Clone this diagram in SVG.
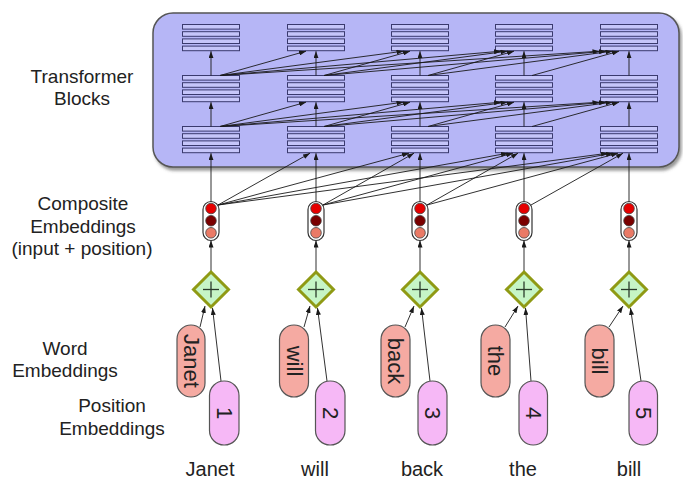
<svg xmlns="http://www.w3.org/2000/svg" xmlns:xlink="http://www.w3.org/1999/xlink" width="683" height="479" viewBox="0 0 683 479">
<style>
.lbl{font-family:"Liberation Sans",Arial,sans-serif;font-size:19px;fill:#222;text-anchor:middle}
.pill-t{font-family:"Liberation Sans",Arial,sans-serif;font-size:22px;fill:#222;text-anchor:middle;dominant-baseline:central}
.word{font-family:"Liberation Sans",Arial,sans-serif;font-size:20px;fill:#222;text-anchor:middle}
.bar{fill:#c6c6fa;stroke:#3a3a6e;stroke-width:1}
.wp{fill:#f5aaa2;stroke:#555;stroke-width:1.2}
.pp{fill:#f6b8f6;stroke:#555;stroke-width:1.2}
.plus{fill:#c6f5c6;stroke:#8f9a14;stroke-width:3}
.cross{stroke:#2a3a2a;stroke-width:1.3}
.comp{fill:#fff;stroke:#333;stroke-width:1.2}
.c1{fill:#e60000;stroke:#444;stroke-width:0.8}
.c2{fill:#7a0000;stroke:#444;stroke-width:0.8}
.c3{fill:#ea7a66;stroke:#444;stroke-width:0.8}
#connectors line{stroke:#1a1a1a;stroke-width:0.9;marker-end:url(#ah)}
</style>
<defs>
<marker id="ah" markerUnits="userSpaceOnUse" markerWidth="7" markerHeight="5" refX="7" refY="2.5" orient="auto">
<path d="M0,0 L7,2.5 L0,5 z" fill="#1a1a1a"/>
</marker>
<filter id="sh" x="-5%" y="-10%" width="110%" height="125%">
<feDropShadow dx="2" dy="3" stdDeviation="1.5" flood-color="#555" flood-opacity="0.6"/>
</filter>
<g id="stack">
<rect class="bar" x="-28.5" y="0" width="57" height="4.6"/>
<rect class="bar" x="-28.5" y="7.2" width="57" height="4.6"/>
<rect class="bar" x="-28.5" y="14.4" width="57" height="4.6"/>
<rect class="bar" x="-28.5" y="21.6" width="57" height="4.6"/>
</g>
<g id="compnode">
<rect class="comp" x="-8" y="0" width="16" height="39" rx="8"/>
<circle class="c1" cx="0" cy="7" r="5.3"/>
<circle class="c2" cx="0" cy="19.2" r="5.3"/>
<circle class="c3" cx="0" cy="31.3" r="5.3"/>
</g>
<g id="plusnode">
<polygon class="plus" points="0,-17.5 17.5,0 0,17.5 -17.5,0"/>
<line class="cross" x1="-8" y1="0" x2="8" y2="0"/>
<line class="cross" x1="0" y1="-8" x2="0" y2="8"/>
</g>
</defs>

<g id="transformer-blocks">
<rect x="153" y="13" width="526" height="154" rx="20" fill="#b6b6f6" stroke="#555" stroke-width="1.5" filter="url(#sh)"/>
</g>

<g id="labels">
<text class="lbl" x="82" y="83">Transformer</text>
<text class="lbl" x="82" y="105">Blocks</text>
<text class="lbl" x="83" y="210">Composite</text>
<text class="lbl" x="83" y="233">Embeddings</text>
<text class="lbl" x="82" y="255">(input + position)</text>
<text class="lbl" x="65" y="355">Word</text>
<text class="lbl" x="65" y="377">Embeddings</text>
<text class="lbl" x="112" y="412">Position</text>
<text class="lbl" x="112" y="435">Embeddings</text>
</g>

<g id="stacks">
<g id="s-top-1"><use xlink:href="#stack" x="211" y="24.5"/></g>
<g id="s-top-2"><use xlink:href="#stack" x="316" y="24.5"/></g>
<g id="s-top-3"><use xlink:href="#stack" x="420" y="24.5"/></g>
<g id="s-top-4"><use xlink:href="#stack" x="524" y="24.5"/></g>
<g id="s-top-5"><use xlink:href="#stack" x="629" y="24.5"/></g>
<g id="s-mid-1"><use xlink:href="#stack" x="211" y="75.5"/></g>
<g id="s-mid-2"><use xlink:href="#stack" x="316" y="75.5"/></g>
<g id="s-mid-3"><use xlink:href="#stack" x="420" y="75.5"/></g>
<g id="s-mid-4"><use xlink:href="#stack" x="524" y="75.5"/></g>
<g id="s-mid-5"><use xlink:href="#stack" x="629" y="75.5"/></g>
<g id="s-bot-1"><use xlink:href="#stack" x="211" y="126.5"/></g>
<g id="s-bot-2"><use xlink:href="#stack" x="316" y="126.5"/></g>
<g id="s-bot-3"><use xlink:href="#stack" x="420" y="126.5"/></g>
<g id="s-bot-4"><use xlink:href="#stack" x="524" y="126.5"/></g>
<g id="s-bot-5"><use xlink:href="#stack" x="629" y="126.5"/></g>
</g>

<g id="connectors">
<!-- top row: mid -> top -->
<line x1="211" y1="75.5" x2="211" y2="51.2"/>
<line x1="316" y1="75.5" x2="316" y2="51.2"/>
<line x1="420" y1="75.5" x2="420" y2="51.2"/>
<line x1="524" y1="75.5" x2="524" y2="51.2"/>
<line x1="629" y1="75.5" x2="629" y2="51.2"/>
<line x1="220" y1="75.5" x2="306" y2="51.2"/>
<line x1="220" y1="75.5" x2="403.5" y2="51.2"/>
<line x1="324" y1="75.5" x2="410" y2="51.2"/>
<line x1="220" y1="75.5" x2="501" y2="51.2"/>
<line x1="324" y1="75.5" x2="507.5" y2="51.2"/>
<line x1="428" y1="75.5" x2="514" y2="51.2"/>
<line x1="220" y1="75.5" x2="599.5" y2="51.2"/>
<line x1="324" y1="75.5" x2="606" y2="51.2"/>
<line x1="428" y1="75.5" x2="612.5" y2="51.2"/>
<line x1="532" y1="75.5" x2="619" y2="51.2"/>
<!-- middle row: bottom -> mid -->
<line x1="211" y1="126.5" x2="211" y2="102.2"/>
<line x1="316" y1="126.5" x2="316" y2="102.2"/>
<line x1="420" y1="126.5" x2="420" y2="102.2"/>
<line x1="524" y1="126.5" x2="524" y2="102.2"/>
<line x1="629" y1="126.5" x2="629" y2="102.2"/>
<line x1="220" y1="126.5" x2="306" y2="102.2"/>
<line x1="220" y1="126.5" x2="403.5" y2="102.2"/>
<line x1="324" y1="126.5" x2="410" y2="102.2"/>
<line x1="220" y1="126.5" x2="501" y2="102.2"/>
<line x1="324" y1="126.5" x2="507.5" y2="102.2"/>
<line x1="428" y1="126.5" x2="514" y2="102.2"/>
<line x1="220" y1="126.5" x2="599.5" y2="102.2"/>
<line x1="324" y1="126.5" x2="606" y2="102.2"/>
<line x1="428" y1="126.5" x2="612.5" y2="102.2"/>
<line x1="532" y1="126.5" x2="619" y2="102.2"/>
<!-- composite -> bottom stacks -->
<line x1="211" y1="201.5" x2="211" y2="153.2"/>
<line x1="316" y1="201.5" x2="316" y2="153.2"/>
<line x1="420" y1="201.5" x2="420" y2="153.2"/>
<line x1="524" y1="201.5" x2="524" y2="153.2"/>
<line x1="629" y1="201.5" x2="629" y2="153.2"/>
<line x1="218" y1="205" x2="310" y2="153.2"/>
<line x1="218" y1="205" x2="409" y2="153.2"/>
<line x1="323" y1="205" x2="414" y2="153.2"/>
<line x1="218" y1="205" x2="508" y2="153.2"/>
<line x1="323" y1="205" x2="513" y2="153.2"/>
<line x1="427" y1="205" x2="518" y2="153.2"/>
<line x1="218" y1="205" x2="608" y2="153.2"/>
<line x1="323" y1="205" x2="613" y2="153.2"/>
<line x1="427" y1="205" x2="618" y2="153.2"/>
<line x1="531" y1="205" x2="623" y2="153.2"/>
<!-- plus -> composite -->
<line x1="211" y1="272" x2="211" y2="240.5"/>
<line x1="316" y1="272" x2="316" y2="240.5"/>
<line x1="420" y1="272" x2="420" y2="240.5"/>
<line x1="524" y1="272" x2="524" y2="240.5"/>
<line x1="629" y1="272" x2="629" y2="240.5"/>
<!-- word embeddings -> plus -->
<line x1="200" y1="327" x2="205" y2="306"/>
<line x1="304" y1="327" x2="310" y2="306"/>
<line x1="405" y1="327" x2="414" y2="306"/>
<line x1="505" y1="327" x2="518" y2="306"/>
<line x1="609" y1="327" x2="623" y2="306"/>
<!-- position embeddings -> plus -->
<line x1="221" y1="381" x2="212.5" y2="308"/>
<line x1="327" y1="381" x2="317.5" y2="308"/>
<line x1="430" y1="381" x2="421.5" y2="308"/>
<line x1="531" y1="381" x2="525.5" y2="308"/>
<line x1="641" y1="381" x2="630.5" y2="308"/>
</g>

<g id="composites">
<g id="comp-1"><use xlink:href="#compnode" x="211" y="201.5"/></g>
<g id="comp-2"><use xlink:href="#compnode" x="316" y="201.5"/></g>
<g id="comp-3"><use xlink:href="#compnode" x="420" y="201.5"/></g>
<g id="comp-4"><use xlink:href="#compnode" x="524" y="201.5"/></g>
<g id="comp-5"><use xlink:href="#compnode" x="629" y="201.5"/></g>
</g>

<g id="plus-nodes">
<g id="plus-1"><use xlink:href="#plusnode" x="211" y="289.5"/></g>
<g id="plus-2"><use xlink:href="#plusnode" x="316" y="289.5"/></g>
<g id="plus-3"><use xlink:href="#plusnode" x="420" y="289.5"/></g>
<g id="plus-4"><use xlink:href="#plusnode" x="524" y="289.5"/></g>
<g id="plus-5"><use xlink:href="#plusnode" x="629" y="289.5"/></g>
</g>

<g id="word-embeddings">
<g id="we-1"><rect class="wp" x="177" y="325" width="28" height="72" rx="14"/><text class="pill-t" transform="translate(191,361) rotate(90)">Janet</text></g>
<g id="we-2"><rect class="wp" x="279.5" y="325" width="29" height="72" rx="14.5"/><text class="pill-t" transform="translate(294,361) rotate(90)">will</text></g>
<g id="we-3"><rect class="wp" x="381" y="325" width="29" height="72" rx="14.5"/><text class="pill-t" transform="translate(395.5,361) rotate(90)">back</text></g>
<g id="we-4"><rect class="wp" x="481" y="325" width="29" height="72" rx="14.5"/><text class="pill-t" transform="translate(495.5,361) rotate(90)">the</text></g>
<g id="we-5"><rect class="wp" x="585" y="325" width="29" height="72" rx="14.5"/><text class="pill-t" transform="translate(599.5,361) rotate(90)">bill</text></g>
</g>

<g id="position-embeddings">
<g id="pe-1"><rect class="pp" x="209.5" y="381" width="29.5" height="64" rx="14.5"/><text class="pill-t" transform="translate(224.2,413) rotate(90)">1</text></g>
<g id="pe-2"><rect class="pp" x="315.5" y="381" width="29.5" height="64" rx="14.5"/><text class="pill-t" transform="translate(330.2,413) rotate(90)">2</text></g>
<g id="pe-3"><rect class="pp" x="418" y="381" width="29" height="64" rx="14.5"/><text class="pill-t" transform="translate(432.5,413) rotate(90)">3</text></g>
<g id="pe-4"><rect class="pp" x="519" y="381" width="28.5" height="64" rx="14.2"/><text class="pill-t" transform="translate(533.2,413) rotate(90)">4</text></g>
<g id="pe-5"><rect class="pp" x="629" y="381" width="28.5" height="64" rx="14.2"/><text class="pill-t" transform="translate(643.2,413) rotate(90)">5</text></g>
</g>

<g id="words">
<text class="word" x="210" y="476">Janet</text>
<text class="word" x="315" y="476">will</text>
<text class="word" x="422" y="476">back</text>
<text class="word" x="523" y="476">the</text>
<text class="word" x="629" y="476">bill</text>
</g>
</svg>
